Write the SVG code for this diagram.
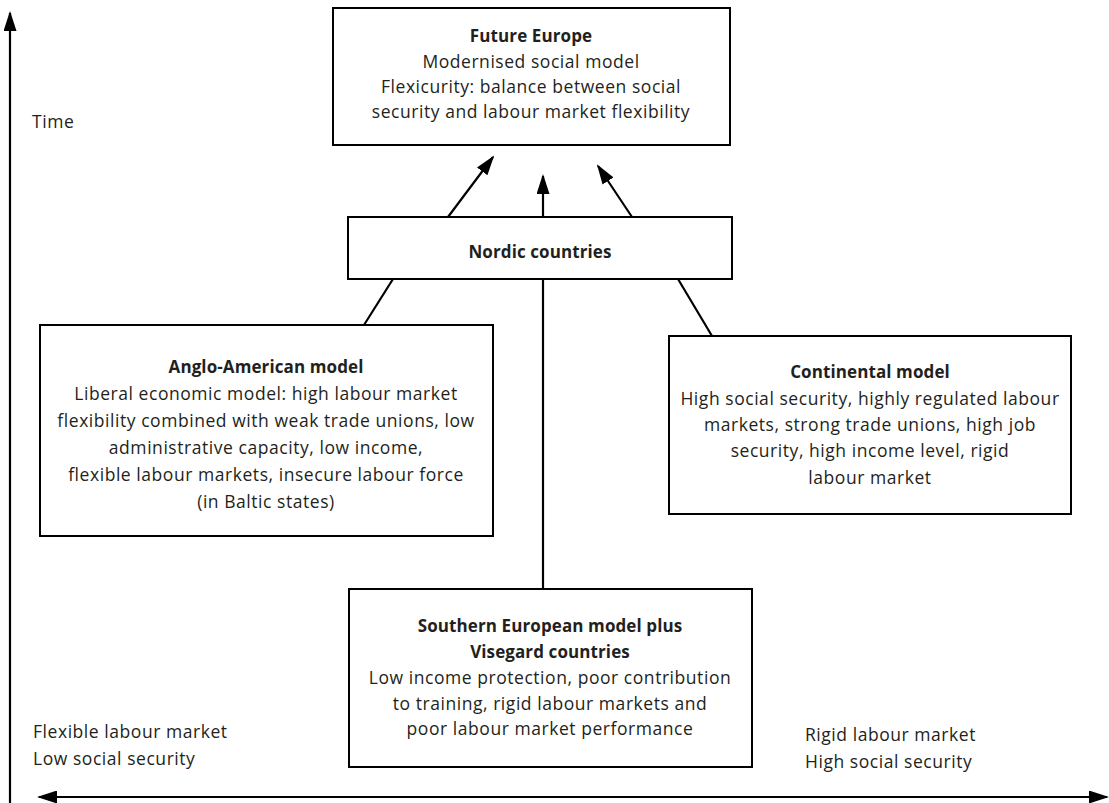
<svg xmlns="http://www.w3.org/2000/svg" width="1109" height="803" viewBox="0 0 1109 803">
<defs>
<marker id="ah" viewBox="0 0 10 10" refX="9" refY="5" markerWidth="20" markerHeight="13" markerUnits="userSpaceOnUse" orient="auto" preserveAspectRatio="none">
<path d="M0,0 L10,5 L0,10 z" fill="#000"/>
</marker>
<marker id="axh" viewBox="0 0 10 10" refX="9" refY="5" markerWidth="20" markerHeight="13" markerUnits="userSpaceOnUse" orient="auto-start-reverse" preserveAspectRatio="none">
<path d="M0,0 L10,5 L0,10 z" fill="#000"/>
</marker>
<style>
.box{fill:#fff;stroke:#000;stroke-width:2}
.ln{stroke:#000;stroke-width:2.2;fill:none}
text{font-family:"Open Sans","Noto Sans","Liberation Sans",sans-serif;font-size:17.5px;letter-spacing:0.55px;fill:#231f20}
.c{text-anchor:middle}
.b{font-weight:bold;font-size:17px;letter-spacing:0.1px}
</style>
</defs>
<g id="axes">
<line class="ln" x1="10" y1="803" x2="10" y2="13" marker-end="url(#axh)"/>
<line class="ln" x1="1107" y1="797" x2="39" y2="797" marker-end="url(#axh)" marker-start="url(#axh)"/>
<text x="32" y="128">Time</text>
<text x="33" y="738">Flexible labour market</text>
<text x="33" y="765">Low social security</text>
<text x="805" y="741">Rigid labour market</text>
<text x="805" y="768">High social security</text>
</g>
<g id="connectors">
<line class="ln" x1="448" y1="217" x2="493" y2="157" marker-end="url(#ah)"/>
<line class="ln" x1="543" y1="217" x2="543" y2="176" marker-end="url(#ah)"/>
<line class="ln" x1="632" y1="217" x2="598" y2="166" marker-end="url(#ah)"/>
<line class="ln" x1="393" y1="279" x2="364" y2="325"/>
<line class="ln" x1="543" y1="279" x2="543" y2="589"/>
<line class="ln" x1="678" y1="279" x2="712" y2="336"/>
</g>
<g id="future-europe">
<rect class="box" x="333" y="8" width="397" height="137"/>
<text class="c b" x="531" y="42">Future Europe</text>
<text class="c" x="531" y="68">Modernised social model</text>
<text class="c" x="531" y="93">Flexicurity: balance between social</text>
<text class="c" x="531" y="118">security and labour market flexibility</text>
</g>
<g id="nordic">
<rect class="box" x="348" y="217" width="384" height="62"/>
<text class="c b" x="540" y="258">Nordic countries</text>
</g>
<g id="anglo-american">
<rect class="box" x="40" y="325" width="453" height="211"/>
<text class="c b" x="266" y="373">Anglo-American model</text>
<text class="c" x="266" y="400">Liberal economic model: high labour market</text>
<text class="c" x="266" y="427">flexibility combined with weak trade unions, low</text>
<text class="c" x="266" y="454">administrative capacity, low income,</text>
<text class="c" x="266" y="481">flexible labour markets, insecure labour force</text>
<text class="c" x="266" y="508">(in Baltic states)</text>
</g>
<g id="continental">
<rect class="box" x="669" y="336" width="402" height="178"/>
<text class="c b" x="870" y="378">Continental model</text>
<text class="c" x="870" y="405">High social security, highly regulated labour</text>
<text class="c" x="870" y="431">markets, strong trade unions, high job</text>
<text class="c" x="870" y="457">security, high income level, rigid</text>
<text class="c" x="870" y="484">labour market</text>
</g>
<g id="southern">
<rect class="box" x="349" y="589" width="403" height="178"/>
<text class="c b" x="550" y="632">Southern European model plus</text>
<text class="c b" x="550" y="658">Visegard countries</text>
<text class="c" x="550" y="684">Low income protection, poor contribution</text>
<text class="c" x="550" y="710">to training, rigid labour markets and</text>
<text class="c" x="550" y="735">poor labour market performance</text>
</g>
</svg>
